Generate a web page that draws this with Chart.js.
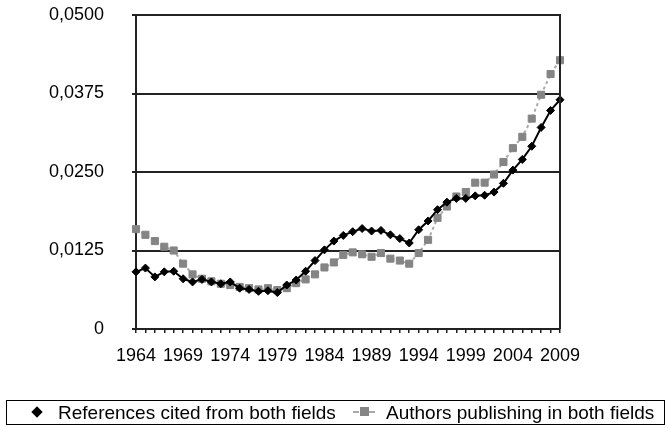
<!DOCTYPE html>
<html>
<head>
<meta charset="utf-8">
<script src="https://cdn.jsdelivr.net/npm/chart.js@4"></script>
<style>
  html, body { margin: 0; padding: 0; background: #fff; }
  #wrap { position: relative; width: 670px; height: 428px; font-family: "Liberation Sans", Arial, sans-serif; }
  #chart { display: block; }
  #legend { position: absolute; left: 6px; top: 400px; width: 657px; height: 23px; border: 1px solid #000; font-size: 19px; color: #000; }
  #legend .txt { position: absolute; top: 1px; white-space: nowrap; }
  #legend .dia { position: absolute; left: 26px; top: 7px; width: 8px; height: 8px; background: #000; transform: rotate(45deg); }
  #legend .sqline { position: absolute; left: 346px; top: 10px; width: 22px; border-top: 2px dashed #aaa; }
  #legend .sq { position: absolute; left: 353px; top: 6px; width: 9px; height: 9px; background: #858585; }
</style>
</head>
<body>
<div id="wrap">
  <canvas id="chart" width="670" height="428"></canvas>
  <div id="legend">
    <span class="dia"></span><span class="txt" style="left:51px">References cited from both fields</span>
    <span class="sqline"></span><span class="sq"></span><span class="txt" style="left:379px">Authors publishing in both fields</span>
  </div>
</div>
<script>
const years = ["1964","1965","1966","1967","1968","1969","1970","1971","1972","1973",
  "1974","1975","1976","1977","1978","1979","1980","1981","1982","1983",
  "1984","1985","1986","1987","1988","1989","1990","1991","1992","1993",
  "1994","1995","1996","1997","1998","1999","2000","2001","2002","2003",
  "2004","2005","2006","2007","2008","2009"];

const references = [0.0091, 0.0097, 0.0083, 0.0091, 0.0092, 0.0080, 0.0075, 0.0079, 0.0075, 0.0072,
  0.0075, 0.0065, 0.0063, 0.0060, 0.0061, 0.0058, 0.0070, 0.0078, 0.0092, 0.0109,
  0.0126, 0.0140, 0.0149, 0.0155, 0.0160, 0.0156, 0.0157, 0.0150, 0.0144, 0.0137,
  0.0158, 0.0172, 0.0190, 0.0202, 0.0208, 0.0208, 0.0212, 0.0213, 0.0218, 0.0232,
  0.0253, 0.0270, 0.0291, 0.0321, 0.0348, 0.0365];

const authors = [0.0159, 0.0150, 0.0140, 0.0131, 0.0125, 0.0104, 0.0087, 0.0080, 0.0076, 0.0072,
  0.0070, 0.0067, 0.0065, 0.0063, 0.0065, 0.0062, 0.0065, 0.0073, 0.0079, 0.0087,
  0.0098, 0.0106, 0.0118, 0.0122, 0.0119, 0.0115, 0.0121, 0.0112, 0.0109, 0.0104,
  0.0121, 0.0142, 0.0177, 0.0195, 0.0211, 0.0218, 0.0233, 0.0233, 0.0246, 0.0266,
  0.0288, 0.0306, 0.0335, 0.0373, 0.0406, 0.0428];

const shownYears = ["1964","1969","1974","1979","1984","1989","1994","1999","2004","2009"];

const FONT = "'Liberation Sans', Arial, sans-serif";

// right-hand frame line of the plot box
const rightFrame = {
  id: "rightFrame",
  afterDraw(chart) {
    const a = chart.chartArea, ctx = chart.ctx;
    ctx.save();
    ctx.strokeStyle = "#222";
    ctx.lineWidth = 2;
    ctx.beginPath();
    ctx.moveTo(a.right, a.top - 1);
    ctx.lineTo(a.right, a.bottom);
    ctx.stroke();
    ctx.restore();
  }
};

new Chart(document.getElementById("chart"), {
  type: "line",
  data: {
    labels: years,
    datasets: [
      {
        label: "References cited from both fields",
        data: references,
        borderColor: "#000",
        borderWidth: 2,
        backgroundColor: "#000",
        pointStyle: "rectRot",
        pointRadius: 4,
        pointBorderWidth: 1,
        pointBorderColor: "#000",
        pointBackgroundColor: "#000",
        tension: 0
      },
      {
        label: "Authors publishing in both fields",
        data: authors,
        borderColor: "#aaa",
        borderWidth: 2,
        borderDash: [3, 3],
        backgroundColor: "#858585",
        pointStyle: "rect",
        pointRadius: 5,
        pointBorderWidth: 1,
        pointBorderColor: "#858585",
        pointBackgroundColor: "#858585",
        tension: 0
      }
    ]
  },
  options: {
    responsive: false,
    animation: false,
    layout: { padding: { top: 15, right: 110, bottom: 54, left: 0 } },
    plugins: {
      legend: { display: false },
      tooltip: { enabled: false }
    },
    scales: {
      x: {
        offset: false,
        grid: { display: true, drawOnChartArea: false, color: "#222", lineWidth: 1.5, tickLength: 4 },
        border: { display: true, color: "#222", width: 2 },
        ticks: {
          autoSkip: false,
          maxRotation: 0,
          padding: 12,
          color: "#000",
          font: { family: FONT, size: 18 },
          callback: function(v, i) {
            const y = years[i];
            return shownYears.includes(y) ? y : "";
          }
        },
        afterFit(scale) { scale.height = 45; }
      },
      y: {
        min: 0,
        max: 0.05,
        grid: { color: "#222", lineWidth: 2, tickLength: 4 },
        border: { display: true, color: "#222", width: 2 },
        ticks: {
          stepSize: 0.0125,
          padding: 28,
          color: "#000",
          font: { family: FONT, size: 18 },
          callback: function(v) {
            if (Math.abs(v) < 1e-9) return "0";
            return v.toFixed(4).replace(".", ",");
          }
        },
        afterFit(scale) {
          scale.width = 136;
          // big label gap should not push the plot down
          scale.paddingTop = 11;
          scale.paddingBottom = 11;
        }
      }
    }
  },
  plugins: [rightFrame]
});
</script>
</body>
</html>
